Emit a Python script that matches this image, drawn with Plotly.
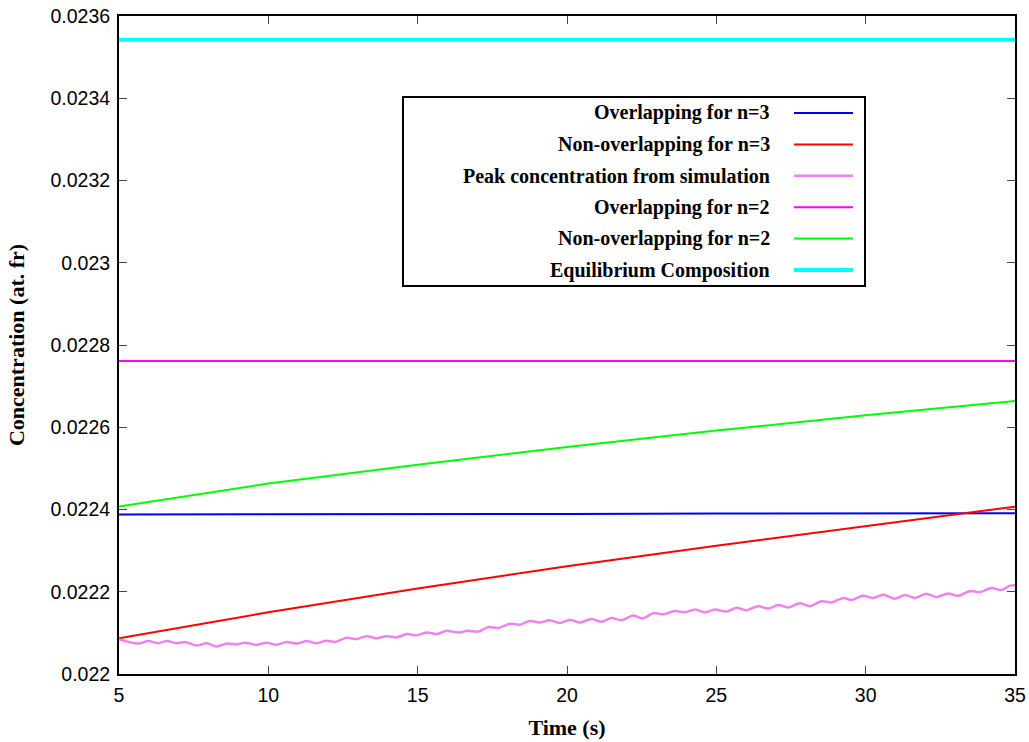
import plotly.graph_objects as go

# ---------------- data ----------------
time_line = [5, 10, 15, 20, 25, 30, 35]
overlap_n3 = [0.022388, 0.022388, 0.022389, 0.022389, 0.02239, 0.022391, 0.022391]
nonoverlap_n3 = [0.022087, 0.022150, 0.022208, 0.022262, 0.022312, 0.022360, 0.022407]
overlap_n2 = [0.022761, 0.022761, 0.022761, 0.022761, 0.022761, 0.022761, 0.022761]
nonoverlap_n2 = [0.022407, 0.022463, 0.022509, 0.022552, 0.022592, 0.022629, 0.022664]
equilibrium = [0.023542, 0.023542, 0.023542, 0.023542, 0.023542, 0.023542, 0.023542]

time_sim = [5.0, 5.65, 5.98, 6.32, 6.60, 6.93, 7.21, 7.60, 7.94, 8.27, 8.61, 8.94, 9.22, 9.61,
            9.94, 10.28, 10.61, 10.95, 11.28, 11.61, 11.95, 12.23, 12.62, 12.96, 13.29, 13.63,
            13.96, 14.30, 14.63, 14.97, 15.30, 15.64, 15.97, 16.36, 16.69, 17.03, 17.36, 17.70,
            18.09, 18.43, 18.76, 19.09, 19.43, 19.76, 20.10, 20.43, 20.82, 21.16, 21.49, 21.83,
            22.22, 22.55, 22.89, 23.22, 23.61, 23.95, 24.28, 24.62, 24.95, 25.34, 25.68, 26.01,
            26.40, 26.74, 27.07, 27.41, 27.80, 28.13, 28.52, 28.86, 29.25, 29.53, 29.91, 30.25,
            30.59, 30.98, 31.31, 31.65, 32.04, 32.37, 32.76, 33.10, 33.49, 33.82, 34.22, 34.55,
            34.83, 35.0]
peak_sim = [0.022084, 0.022074, 0.022080, 0.022075, 0.022080, 0.022075, 0.022078, 0.022069,
            0.022075, 0.022067, 0.022074, 0.022072, 0.022076, 0.022071, 0.022076, 0.022071,
            0.022078, 0.022074, 0.022080, 0.022075, 0.022081, 0.022078, 0.022088, 0.022085,
            0.022092, 0.022087, 0.022092, 0.022089, 0.022097, 0.022094, 0.022101, 0.022097,
            0.022105, 0.022101, 0.022105, 0.022103, 0.022114, 0.022112, 0.022122, 0.022120,
            0.022129, 0.022125, 0.022131, 0.022124, 0.022132, 0.022125, 0.022134, 0.022127,
            0.022136, 0.022131, 0.022142, 0.022135, 0.022148, 0.022145, 0.022153, 0.022150,
            0.022157, 0.022150, 0.022157, 0.022152, 0.022161, 0.022155, 0.022165, 0.022159,
            0.022168, 0.022162, 0.022172, 0.022165, 0.022177, 0.022174, 0.022185, 0.022180,
            0.022190, 0.022185, 0.022193, 0.022183, 0.022192, 0.022185, 0.022195, 0.022187,
            0.022196, 0.022190, 0.022202, 0.022199, 0.022209, 0.022204, 0.022215, 0.022216]

y_tickvals = [0.022, 0.0222, 0.0224, 0.0226, 0.0228, 0.023, 0.0232, 0.0234, 0.0236]
y_ticktext = ["0.022", "0.0222", "0.0224", "0.0226", "0.0228", "0.023", "0.0232", "0.0234", "0.0236"]
x_tickvals = [5, 10, 15, 20, 25, 30, 35]

series_names = ["Overlapping for n=3", "Non-overlapping for n=3", "Peak concentration from simulation",
                "Overlapping for n=2", "Non-overlapping for n=2", "Equilibrium Composition"]
series_colors = ["#0000ee", "#ff0000", "#ee82ee", "#ff00ff", "#00ff00", "#00ffff"]
series_widths = [2, 2, 2.5, 2, 2, 4]
series_x = [time_line, time_line, time_sim, time_line, time_line, time_line]
series_y = [overlap_n3, nonoverlap_n3, peak_sim, overlap_n2, nonoverlap_n2, equilibrium]

fig = go.Figure()
for i in range(len(series_names)):
    fig.add_trace(go.Scatter(
        x=series_x[i], y=series_y[i], mode="lines", name=series_names[i],
        line=dict(color=series_colors[i], width=series_widths[i],
                  shape="spline" if i == 2 else "linear", smoothing=0.8 if i == 2 else None),
        showlegend=False))

FW, FH = 1029, 742
# plot-area edges in window pixels
L, R, T, B = 119, 1015, 16, 674
W, H = R - L, B - T

def px(x):
    return (x - L) / W

def py(y):
    return (B - y) / H

# ---------- custom legend (text right-aligned, sample line on the right) ----------
shapes = [dict(type="rect", xref="paper", yref="paper", x0=px(403), x1=px(865),
               y0=py(286), y1=py(97), line=dict(color="black", width=2), fillcolor="white",
               layer="above")]
annotations = []
row_y0, row_step = 113, 31.4
for i, name in enumerate(series_names):
    yy = row_y0 + i * row_step
    annotations.append(dict(xref="paper", yref="paper", x=px(772), y=py(yy), text="<b>" + name + "</b>",
                            showarrow=False, xanchor="right", yanchor="middle",
                            font=dict(family="Liberation Serif", size=20, color="black")))
    shapes.append(dict(type="line", xref="paper", yref="paper", x0=px(794), x1=px(853),
                       y0=py(yy), y1=py(yy), layer="above",
                       line=dict(color=series_colors[i], width=series_widths[i])))

fig.update_layout(
    width=FW, height=FH,
    margin=dict(l=L, r=FW - R, t=T, b=FH - B, pad=0, autoexpand=False),
    plot_bgcolor="white", paper_bgcolor="white",
    shapes=shapes, annotations=annotations,
    xaxis=dict(range=[5, 35], tickvals=x_tickvals, ticks="inside", ticklen=8, tickwidth=1,
               tickcolor="#444", showline=True, linecolor="black", linewidth=2, mirror="ticks",
               showgrid=False, zeroline=False, ticklabelstandoff=3, automargin=False,
               ticklabeloverflow="allow",
               tickfont=dict(family="Liberation Sans", size=19.5, color="black"),
               title=dict(text="<b>Time (s)</b>", standoff=14,
                          font=dict(family="Liberation Serif", size=22, color="black"))),
    yaxis=dict(range=[0.022, 0.0236], tickvals=y_tickvals, ticktext=y_ticktext, ticks="inside",
               ticklen=8, tickwidth=1, tickcolor="#444", showline=True, linecolor="black",
               linewidth=2, mirror="ticks", showgrid=False, zeroline=False, ticklabelstandoff=3,
               automargin=False, ticklabeloverflow="allow",
               tickfont=dict(family="Liberation Sans", size=19.5, color="black"),
               title=dict(text="<b>Concentration (at. fr)</b>", standoff=20,
                          font=dict(family="Liberation Serif", size=22, color="black"))),
)

fig.write_html("out.html", config={"displayModeBar": False},
               post_script="document.body.style.margin='0';")
